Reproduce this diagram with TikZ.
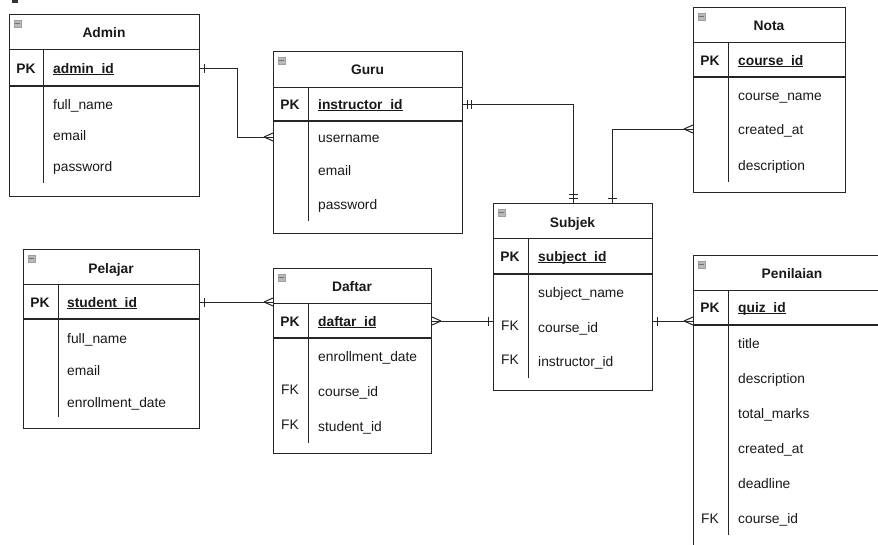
\documentclass[tikz,border=0pt]{standalone}
\usepackage{fontspec}
\setmainfont{Liberation Sans}
\usetikzlibrary{calc}
\newcommand{\pkul}[1]{\setbox0\hbox{#1}\leavevmode\rlap{\rule[-2pt]{\wd0}{1.2pt}}\box0}
\tikzset{
 tbl/.style={draw=black!85, line width=1pt, rectangle, inner sep=0pt, anchor=north west},
 fld/.style={anchor=west, inner sep=0pt, text height=12pt, text depth=2pt, font=\fontsize{13.8}{16}\selectfont, text=black!90},
 keyl/.style={fld, anchor=center, font=\fontsize{13.8}{16}\selectfont\bfseries},
 fkl/.style={fld, anchor=center},
 pkf/.style={fld, font=\fontsize{13.8}{16}\selectfont\bfseries},
 ttl/.style={inner sep=0pt, text height=12pt, text depth=2pt, font=\fontsize{13.8}{16}\selectfont\bfseries, text=black!90},
 sepline/.style={draw=black!85, line width=1pt},
 pksep/.style={draw=black!85, line width=1.5pt},
 conn/.style={draw=black!85, line width=1pt},
 icon/.style={fill=gray!55, draw=gray!75, line width=0.8pt},
 iconbar/.style={draw=black!55, line width=1.1pt},
}
\newcommand{\tblicon}[2]{\draw[icon] (#1+5,#2+6) rectangle (#1+12,#2+13); \draw[iconbar] (#1+6,#2+9.5) -- (#1+11,#2+9.5);}
\begin{document}
\begin{tikzpicture}[x=1pt,y=-1pt]
\useasboundingbox (0,0) rectangle (878,544);
\clip (0,0) rectangle (878,544);
\fill[white] (0,0) rectangle (878,544);
\fill[black!80] (12,0) rectangle (18,2.5);

% ---------- Admin ----------
\node[tbl, minimum width=190pt, minimum height=182pt] (admin) at (9,14) {};
\draw[sepline] (9,49) -- (199,49);
\draw[pksep] (9,86) -- (199,86);
\draw[sepline] (43,49) -- (43,183);
\tblicon{9}{14}
\node[ttl] (admin-t) at (104,32) {Admin};
\node[keyl] (admin-k) at (26,68) {PK};
\node[pkf] (admin-pk) at (53,68) {\pkul{admin\_id}};
\node[fld] (admin-r1) at (53,104) {full\_name};
\node[fld] (admin-r2) at (53,135) {email};
\node[fld] (admin-r3) at (53,166) {password};

% ---------- Guru ----------
\node[tbl, minimum width=189pt, minimum height=182pt] (guru) at (273,51) {};
\draw[sepline] (273,87) -- (462,87);
\draw[pksep] (273,121) -- (462,121);
\draw[sepline] (308,87) -- (308,221);
\tblicon{273}{51}
\node[ttl] (guru-t) at (367.5,69) {Guru};
\node[keyl] (guru-k) at (290,104) {PK};
\node[pkf] (guru-pk) at (318,104) {\pkul{instructor\_id}};
\node[fld] (guru-r1) at (318,137) {username};
\node[fld] (guru-r2) at (318,170) {email};
\node[fld] (guru-r3) at (318,204) {password};

% ---------- Nota ----------
\node[tbl, minimum width=152pt, minimum height=185pt] (nota) at (693,7) {};
\draw[sepline] (693,42) -- (845,42);
\draw[pksep] (693,77) -- (845,77);
\draw[sepline] (728,42) -- (728,182);
\tblicon{693}{7}
\node[ttl] (nota-t) at (769,25) {Nota};
\node[keyl] (nota-k) at (710,60) {PK};
\node[pkf] (nota-pk) at (738,60) {\pkul{course\_id}};
\node[fld] (nota-r1) at (738,95) {course\_name};
\node[fld] (nota-r2) at (738,129) {created\_at};
\node[fld] (nota-r3) at (738,165) {description};

% ---------- Subjek ----------
\node[tbl, minimum width=159pt, minimum height=187pt] (subjek) at (493,203) {};
\draw[sepline] (493,238) -- (652,238);
\draw[pksep] (493,274) -- (652,274);
\draw[sepline] (528,238) -- (528,378);
\tblicon{493}{203}
\node[ttl] (subjek-t) at (572.5,222) {Subjek};
\node[keyl] (subjek-k) at (510,256) {PK};
\node[pkf] (subjek-pk) at (538,256) {\pkul{subject\_id}};
\node[fld] (subjek-r1) at (538,292) {subject\_name};
\node[fkl] (subjek-f2) at (510,325) {FK};
\node[fld] (subjek-r2) at (538,327) {course\_id};
\node[fkl] (subjek-f3) at (510,359) {FK};
\node[fld] (subjek-r3) at (538,361) {instructor\_id};

% ---------- Penilaian ----------
\node[tbl, minimum width=198pt, minimum height=320pt] (penilaian) at (693,255) {};
\draw[sepline] (693,290) -- (891,290);
\draw[pksep] (693,325) -- (891,325);
\draw[sepline] (728,290) -- (728,535);
\tblicon{693}{255}
\node[ttl] (penilaian-t) at (792,273) {Penilaian};
\node[keyl] (penilaian-k) at (710,307) {PK};
\node[pkf] (penilaian-pk) at (738,307) {\pkul{quiz\_id}};
\node[fld] (penilaian-r1) at (738,343) {title};
\node[fld] (penilaian-r2) at (738,378) {description};
\node[fld] (penilaian-r3) at (738,413) {total\_marks};
\node[fld] (penilaian-r4) at (738,448) {created\_at};
\node[fld] (penilaian-r5) at (738,483) {deadline};
\node[fkl] (penilaian-f6) at (710,518) {FK};
\node[fld] (penilaian-r6) at (738,518) {course\_id};

% ---------- Pelajar ----------
\node[tbl, minimum width=176pt, minimum height=179pt] (pelajar) at (23,249) {};
\draw[sepline] (23,284) -- (199,284);
\draw[pksep] (23,319) -- (199,319);
\draw[sepline] (58,284) -- (58,417);
\tblicon{23}{249}
\node[ttl] (pelajar-t) at (111,268) {Pelajar};
\node[keyl] (pelajar-k) at (40,302) {PK};
\node[pkf] (pelajar-pk) at (67,302) {\pkul{student\_id}};
\node[fld] (pelajar-r1) at (67,338) {full\_name};
\node[fld] (pelajar-r2) at (67,370) {email};
\node[fld] (pelajar-r3) at (67,402) {enrollment\_date};

% ---------- Daftar ----------
\node[tbl, minimum width=158pt, minimum height=185pt] (daftar) at (273,268) {};
\draw[sepline] (273,303) -- (431,303);
\draw[pksep] (273,338) -- (431,338);
\draw[sepline] (308,303) -- (308,443);
\tblicon{273}{268}
\node[ttl] (daftar-t) at (352,286) {Daftar};
\node[keyl] (daftar-k) at (290,321) {PK};
\node[pkf] (daftar-pk) at (318,321) {\pkul{daftar\_id}};
\node[fld] (daftar-r1) at (318,356) {enrollment\_date};
\node[fkl] (daftar-f2) at (290,389) {FK};
\node[fld] (daftar-r2) at (318,391) {course\_id};
\node[fkl] (daftar-f3) at (290,424) {FK};
\node[fld] (daftar-r3) at (318,426) {student\_id};

% ---------- Connectors ----------
% Admin -> Guru
\coordinate (a1) at (admin.east |- admin-pk);
\coordinate (g1) at (guru.west |- guru-r1);
\draw[conn] (a1) -- ++(37,0) |- (g1);
\draw[conn] ([xshift=4pt]a1) ++(0,-4.5) -- ++(0,9);
\draw[conn] ([xshift=-9pt]g1) -- ([yshift=4pt]g1) ([xshift=-9pt]g1) -- ([yshift=-4pt]g1);

% Guru -> Subjek
\coordinate (g2) at (guru.east |- guru-pk);
\coordinate (s1) at ([xshift=80pt]subjek.north west);
\draw[conn] (g2) -| (s1);
\draw[conn] ([xshift=4pt]g2) ++(0,-4.5) -- ++(0,9);
\draw[conn] ([xshift=8pt]g2) ++(0,-4.5) -- ++(0,9);
\draw[conn] ([yshift=5pt]s1) ++(-4.5,0) -- ++(9,0);
\draw[conn] ([yshift=8.5pt]s1) ++(-4.5,0) -- ++(9,0);

% Nota -> Subjek
\coordinate (n1) at (nota.west |- nota-r2);
\coordinate (s2) at ([xshift=119pt]subjek.north west);
\draw[conn] (n1) -| (s2);
\draw[conn] ([xshift=-9pt]n1) -- ([yshift=4pt]n1) ([xshift=-9pt]n1) -- ([yshift=-4pt]n1);
\draw[conn] ([yshift=5pt]s2) ++(-4.5,0) -- ++(9,0);

% Pelajar -> Daftar
\coordinate (p1) at (pelajar.east |- pelajar-pk);
\coordinate (d1) at (daftar.west |- pelajar-pk);
\draw[conn] (p1) -- (d1);
\draw[conn] ([xshift=4pt]p1) ++(0,-4.5) -- ++(0,9);
\draw[conn] ([xshift=-9pt]d1) -- ([yshift=4pt]d1) ([xshift=-9pt]d1) -- ([yshift=-4pt]d1);

% Daftar -> Subjek
\coordinate (d2) at (daftar.east |- daftar-pk);
\coordinate (s3) at (subjek.west |- daftar-pk);
\draw[conn] (d2) -- (s3);
\draw[conn] ([xshift=9pt]d2) -- ([yshift=4pt]d2) ([xshift=9pt]d2) -- ([yshift=-4pt]d2);
\draw[conn] ([xshift=-5pt]s3) ++(0,-4.5) -- ++(0,9);

% Subjek -> Penilaian
\coordinate (s4) at (subjek.east |- daftar-pk);
\coordinate (q1) at (penilaian.west |- daftar-pk);
\draw[conn] (s4) -- (q1);
\draw[conn] ([xshift=4pt]s4) ++(0,-4.5) -- ++(0,9);
\draw[conn] ([xshift=-9pt]q1) -- ([yshift=4pt]q1) ([xshift=-9pt]q1) -- ([yshift=-4pt]q1);
\end{tikzpicture}
\end{document}
